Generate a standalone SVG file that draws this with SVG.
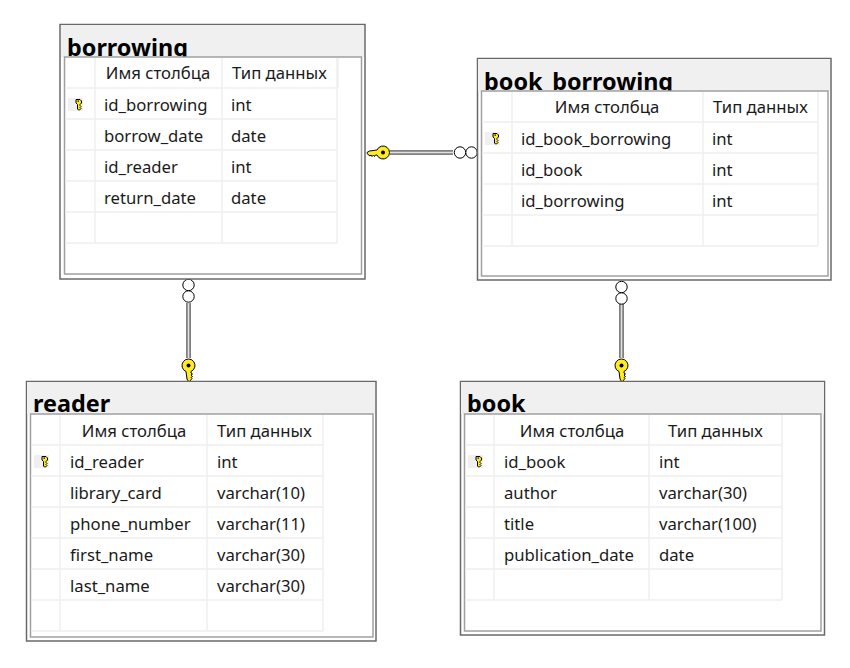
<svg xmlns="http://www.w3.org/2000/svg" width="850" height="668" viewBox="0 0 850 668">
<style>
text{font-family:"Noto Sans","Open Sans","Liberation Sans",sans-serif;font-size:16.7px;fill:#1a1a1a}
.t{font-size:23.4px;font-weight:700;fill:#000}
.outer{fill:#fff;stroke:#696969;stroke-width:1.5}
.head{fill:#f0f0f0}
.inner{fill:#fff;stroke:#a0a0a0;stroke-width:1.5}
.g{stroke:#f0f0f0;stroke-width:1.5;fill:none}
.m{text-anchor:middle}
.kb{fill:#f0f0f0}
.key{fill:#ffec20;stroke:#000;stroke-width:1}
.lo{stroke:#808080;stroke-width:5;fill:none}
.li{stroke:#e0e0e0;stroke-width:1.5;fill:none}
.o{fill:#fff;stroke:#000;stroke-width:1}
</style>
<defs>
<g id="k"><rect class="kb" x="-10" y="-6" width="15" height="13"/><path class="key" stroke-linejoin="round" d="M-2 -4.500h4l1.500 1.500v2l-1.500 1.500v1l1 1-1 1 1 1-1.500 1.500h-1l-1-1v-4.500l-1.500-1.500v-2z"/><rect x="-0.500" y="-3.500" width="1.500" height="1.200" fill="#000"/></g>
<g id="K"><path class="key" d="M-2.500 6a6.500 6.500 0 1 1 5 0v1.500l1.500 1-1.500 1 1.500 1.500-1.500 1 1 1-2.500 3h-1l-1.500-2.500z"/><circle cx="0" cy="0" r="2" fill="#000"/></g>
</defs>
<g id="connectors">
<path class="lo" d="M390 152.500H453"/><path class="li" d="M390 152.500H453"/>
<circle class="o" cx="460" cy="152.500" r="5.700"/><circle class="o" cx="471.500" cy="152.500" r="5.700"/>
<use href="#K" transform="translate(383 152.500) rotate(90)"/>
<path class="lo" d="M188.500 303V358"/><path class="li" d="M188.500 303V358"/>
<circle class="o" cx="188.500" cy="285" r="5.700"/><circle class="o" cx="188.500" cy="296.500" r="5.700"/>
<use href="#K" x="188.500" y="365.500"/>
<path class="lo" d="M621.500 304V358"/><path class="li" d="M621.500 304V358"/>
<circle class="o" cx="621.500" cy="287" r="5.700"/><circle class="o" cx="621.500" cy="298.500" r="5.700"/>
<use href="#K" x="621.500" y="365.500"/>
</g>
<g id="borrowing">
<rect class="outer" x="60" y="24.500" width="305" height="254.500"/>
<rect class="head" x="61" y="25" width="303" height="32"/>
<text class="t" x="67" y="56">borrowing</text>
<rect class="inner" x="64.500" y="57" width="297" height="217"/>
<path class="g" d="M65 88H337M65 119H337M65 150H337M65 181H337M65 212H337M65 243H337M95 58V243M222 58V243M337 58V243M338 58V88"/>
<text class="m" x="158" y="79">Имя столбца</text><text x="232" y="79">Тип данных</text>
<use href="#k" x="78" y="104"/>
<text x="104" y="111">id_borrowing</text><text x="231" y="111">int</text>
<text x="104" y="142">borrow_date</text><text x="231" y="142">date</text>
<text x="104" y="173">id_reader</text><text x="231" y="173">int</text>
<text x="104" y="204">return_date</text><text x="231" y="204">date</text>
</g>
<g id="book_borrowing">
<rect class="outer" x="477.500" y="58.500" width="353.500" height="221.500"/>
<rect class="head" x="478" y="59" width="352" height="32"/>
<text class="t" x="484" y="90">book_borrowing</text>
<rect class="inner" x="481.500" y="91" width="346.500" height="185"/>
<path class="g" d="M482 122H818M482 153H818M482 184H818M482 215H818M482 246H818M512 92V246M703 92V246M818 92V246"/>
<text class="m" x="607" y="113">Имя столбца</text><text x="713" y="113">Тип данных</text>
<use href="#k" x="495" y="138"/>
<text x="521" y="145">id_book_borrowing</text><text x="712" y="145">int</text>
<text x="521" y="176">id_book</text><text x="712" y="176">int</text>
<text x="521" y="207">id_borrowing</text><text x="712" y="207">int</text>
</g>
<g id="reader">
<rect class="outer" x="26.500" y="381.500" width="349.500" height="259.500"/>
<rect class="head" x="27" y="382" width="348" height="32"/>
<text class="t" x="33" y="412">reader</text>
<rect class="inner" x="30.500" y="414" width="342.500" height="223"/>
<path class="g" d="M31 445H323M31 476H323M31 507H323M31 538H323M31 569H323M31 600H323M31 631H323M60 415V631M207 415V631M323 415V631"/>
<text class="m" x="134" y="437">Имя столбца</text><text x="217" y="437">Тип данных</text>
<use href="#k" x="44" y="461"/>
<text x="70" y="468">id_reader</text><text x="217" y="468">int</text>
<text x="70" y="499">library_card</text><text x="217" y="499">varchar(10)</text>
<text x="70" y="530">phone_number</text><text x="217" y="530">varchar(11)</text>
<text x="70" y="561">first_name</text><text x="217" y="561">varchar(30)</text>
<text x="70" y="592">last_name</text><text x="217" y="592">varchar(30)</text>
</g>
<g id="book">
<rect class="outer" x="460.500" y="381.500" width="364" height="253.500"/>
<rect class="head" x="461" y="382" width="363" height="32"/>
<text class="t" x="467" y="412">book</text>
<rect class="inner" x="464.500" y="414" width="356.500" height="217"/>
<path class="g" d="M465 445H782M465 476H782M465 507H782M465 538H782M465 569H782M465 600H782M494 415V600M649 415V600M782 415V600"/>
<text class="m" x="572" y="437">Имя столбца</text><text x="668" y="437">Тип данных</text>
<use href="#k" x="478" y="461"/>
<text x="504" y="468">id_book</text><text x="659" y="468">int</text>
<text x="504" y="499">author</text><text x="659" y="499">varchar(30)</text>
<text x="504" y="530">title</text><text x="659" y="530">varchar(100)</text>
<text x="504" y="561">publication_date</text><text x="659" y="561">date</text>
</g>
</svg>
